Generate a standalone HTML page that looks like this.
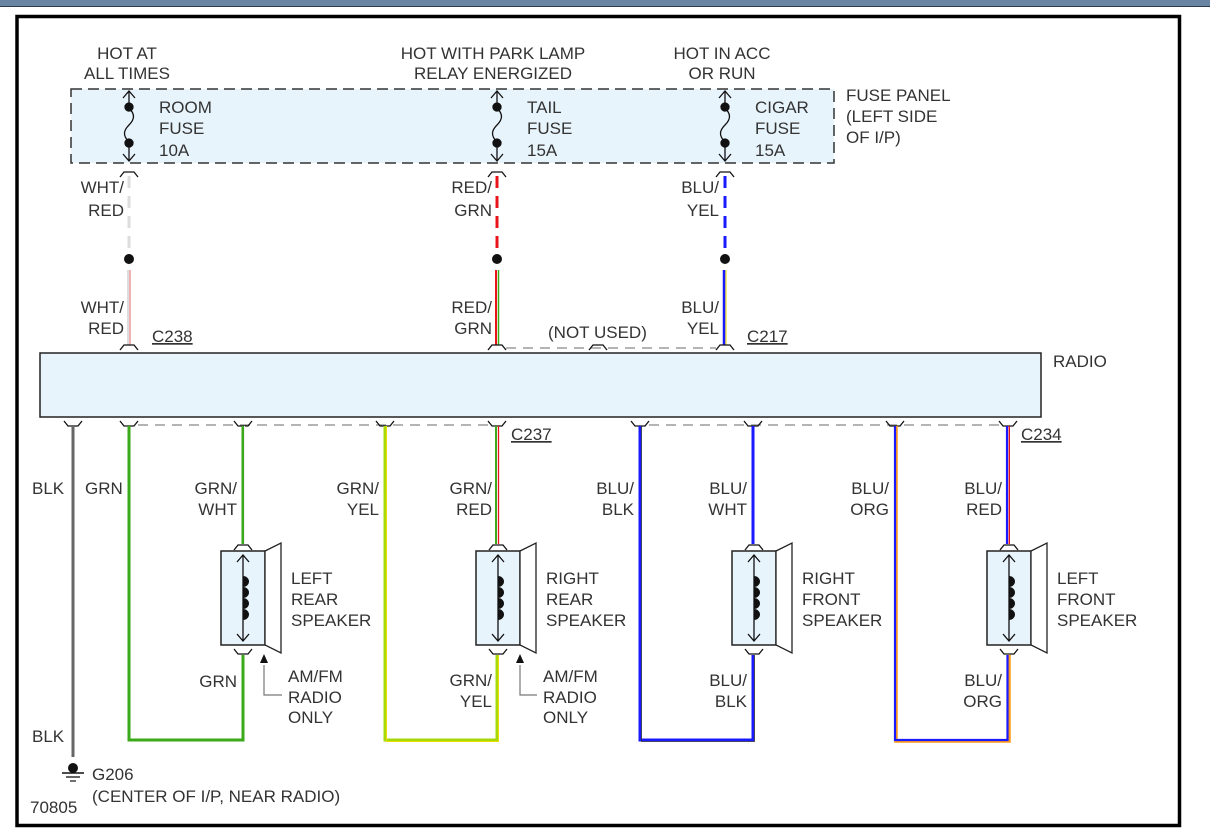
<!DOCTYPE html>
<html><head><meta charset="utf-8"><style>
html,body{margin:0;padding:0;background:#fff;}
svg{display:block;}
text{font-family:"Liberation Sans",sans-serif;font-size:17px;fill:#333;}
</style></head><body>
<svg width="1210" height="839" viewBox="0 0 1210 839" xmlns="http://www.w3.org/2000/svg">
<defs>
<g id="fuse" fill="none" stroke="#111" stroke-width="1.3">
<line x1="0" y1="91" x2="0" y2="108"/>
<line x1="0" y1="142" x2="0" y2="161"/>
<path d="M-6,98 L0,91 L6,98 M-6,154 L0,161 L6,154"/>
<path d="M0,108 C6,114 6,119 0,125 C-6,131 -6,136 0,142"/>
<circle cx="0" cy="107" r="4" fill="#111"/>
<circle cx="0" cy="143" r="4" fill="#111"/>
</g>
<path id="cdn" d="M-9,-5 L-5,0 L5,0 L9,-5" fill="none" stroke="#111" stroke-width="1.3"/>
<path id="cup" d="M-9,5 L-5,0 L5,0 L9,5" fill="none" stroke="#111" stroke-width="1.3"/>
<g id="spk">
<use href="#cup" x="0" y="545"/>
<use href="#cdn" x="0" y="654"/>
<rect x="-22" y="551" width="44" height="94" fill="#e8f4fc" stroke="#222" stroke-width="1.5"/>
<polygon points="22,551 38,543 38,653 22,645" fill="#fff" stroke="#222" stroke-width="1.3"/>
<line x1="0" y1="555" x2="0" y2="641" stroke="#111" stroke-width="1.3"/>
<path d="M-6,562 L0,555 L6,562 M-6,634 L0,641 L6,634" fill="none" stroke="#111" stroke-width="1.3"/>
<path d="M0,576 a6,5.5 0 0 1 0,11 a6,5.5 0 0 1 0,11 a6,5.5 0 0 1 0,11 a6,5.5 0 0 1 0,11 Z" fill="#111"/>
</g>
</defs>
<rect x="0" y="0" width="1210" height="6" fill="#6a84a3"/>
<line x1="0" y1="6.5" x2="1210" y2="6.5" stroke="#2b3a4d" stroke-width="1"/>
<rect x="17" y="16.5" width="1162.5" height="809" fill="#fff" stroke="#000" stroke-width="3.5"/>

<rect x="71" y="89" width="763" height="74" fill="#e8f4fc" stroke="#333" stroke-width="1.5" stroke-dasharray="11,6"/>
<use href="#fuse" x="129"/><use href="#fuse" x="497"/><use href="#fuse" x="725"/>
<text x="127" y="59" text-anchor="middle">HOT AT</text>
<text x="127" y="79" text-anchor="middle">ALL TIMES</text>
<text x="493" y="59" text-anchor="middle">HOT WITH PARK LAMP</text>
<text x="493" y="79" text-anchor="middle">RELAY ENERGIZED</text>
<text x="722" y="59" text-anchor="middle">HOT IN ACC</text>
<text x="722" y="79" text-anchor="middle">OR RUN</text>
<text x="159" y="113">ROOM</text><text x="159" y="134">FUSE</text><text x="159" y="156">10A</text>
<text x="527" y="113">TAIL</text><text x="527" y="134">FUSE</text><text x="527" y="156">15A</text>
<text x="755" y="113">CIGAR</text><text x="755" y="134">FUSE</text><text x="755" y="156">15A</text>
<text x="846" y="101">FUSE PANEL</text><text x="846" y="122">(LEFT SIDE</text><text x="846" y="143">OF I/P)</text>

<use href="#cup" x="129" y="172"/><use href="#cup" x="497" y="172"/><use href="#cup" x="725" y="172"/>
<line x1="129" y1="176" x2="129" y2="250" stroke="#ddd" stroke-width="3" stroke-dasharray="12,8"/>
<line x1="497" y1="176" x2="497" y2="250" stroke="#e8141a" stroke-width="3" stroke-dasharray="12,8"/>
<line x1="725" y1="176" x2="725" y2="250" stroke="#1a1aff" stroke-width="3" stroke-dasharray="12,8"/>
<circle cx="129" cy="259" r="5" fill="#111"/><circle cx="497" cy="259" r="5" fill="#111"/><circle cx="725" cy="259" r="5" fill="#111"/>
<line x1="128" y1="270" x2="128" y2="345" stroke="#ddd" stroke-width="2"/>
<line x1="130" y1="270" x2="130" y2="345" stroke="#d66" stroke-width="1"/>
<line x1="496" y1="270" x2="496" y2="345" stroke="#e8141a" stroke-width="2"/>
<line x1="498.5" y1="270" x2="498.5" y2="345" stroke="#3aaa1a" stroke-width="1.5"/>
<line x1="724" y1="270" x2="724" y2="345" stroke="#1a1aff" stroke-width="2.5"/>
<line x1="726" y1="270" x2="726" y2="345" stroke="#e8d800" stroke-width="1"/>
<text x="124" y="193" text-anchor="end">WHT/</text><text x="124" y="216" text-anchor="end">RED</text>
<text x="492" y="193" text-anchor="end">RED/</text><text x="492" y="216" text-anchor="end">GRN</text>
<text x="719" y="193" text-anchor="end">BLU/</text><text x="719" y="216" text-anchor="end">YEL</text>
<text x="124" y="313" text-anchor="end">WHT/</text><text x="124" y="334" text-anchor="end">RED</text>
<text x="492" y="313" text-anchor="end">RED/</text><text x="492" y="334" text-anchor="end">GRN</text>
<text x="719" y="313" text-anchor="end">BLU/</text><text x="719" y="334" text-anchor="end">YEL</text>
<text x="548" y="338">(NOT USED)</text>
<text x="152" y="342" text-decoration="underline">C238</text>
<text x="747" y="342" text-decoration="underline">C217</text>
<line x1="506" y1="348" x2="716" y2="348" stroke="#888" stroke-width="1.2" stroke-dasharray="10,7"/>
<use href="#cup" x="129" y="345"/><use href="#cup" x="497" y="345"/><use href="#cup" x="598" y="345"/><use href="#cup" x="725" y="345"/>

<rect x="40" y="353" width="1001" height="64" fill="#e8f4fc" stroke="#222" stroke-width="1.5"/>
<text x="1053" y="367">RADIO</text>

<line x1="138" y1="425" x2="488" y2="425" stroke="#888" stroke-width="1.2" stroke-dasharray="10,7"/>
<line x1="649" y1="425" x2="999" y2="425" stroke="#888" stroke-width="1.2" stroke-dasharray="10,7"/>
<use href="#cdn" x="73" y="426"/><use href="#cdn" x="129" y="426"/><use href="#cdn" x="243" y="426"/>
<use href="#cdn" x="385" y="426"/><use href="#cdn" x="497" y="426"/><use href="#cdn" x="640" y="426"/>
<use href="#cdn" x="753" y="426"/><use href="#cdn" x="895" y="426"/><use href="#cdn" x="1008" y="426"/>
<text x="511" y="440" text-decoration="underline">C237</text>
<text x="1021" y="440" text-decoration="underline">C234</text>

<line x1="73" y1="426" x2="73" y2="757" stroke="#666" stroke-width="3"/>
<circle cx="73" cy="768" r="5" fill="#111"/>
<line x1="62" y1="773" x2="84" y2="773" stroke="#111" stroke-width="1.5"/>
<line x1="66" y1="777" x2="80" y2="777" stroke="#111" stroke-width="1.3"/>
<line x1="70" y1="781" x2="76" y2="781" stroke="#111" stroke-width="1.2"/>
<text x="32" y="494">BLK</text><text x="32" y="742">BLK</text>
<text x="92" y="780">G206</text>
<text x="92" y="802">(CENTER OF I/P, NEAR RADIO)</text>
<text x="30" y="813">70805</text>

<path d="M129,426 V740 H243 V655" fill="none" stroke="#3aaa1a" stroke-width="3"/>
<line x1="243" y1="426" x2="243" y2="544" stroke="#3aaa1a" stroke-width="3"/>
<line x1="244.5" y1="426" x2="244.5" y2="544" stroke="#eee" stroke-width="1"/>
<text x="85" y="494">GRN</text>
<text x="237" y="494" text-anchor="end">GRN/</text><text x="237" y="515" text-anchor="end">WHT</text>
<text x="237" y="687" text-anchor="end">GRN</text>

<path d="M385,426 V740 H497 V655" fill="none" stroke="#a6d80a" stroke-width="3"/>
<path d="M386.5,426 V741.5 H498.5 V655" fill="none" stroke="#e8e000" stroke-width="1"/>
<line x1="496" y1="426" x2="496" y2="544" stroke="#3aaa1a" stroke-width="2"/>
<line x1="498.5" y1="426" x2="498.5" y2="544" stroke="#e8141a" stroke-width="1.3"/>
<text x="379" y="494" text-anchor="end">GRN/</text><text x="379" y="515" text-anchor="end">YEL</text>
<text x="492" y="494" text-anchor="end">GRN/</text><text x="492" y="515" text-anchor="end">RED</text>
<text x="492" y="686" text-anchor="end">GRN/</text><text x="492" y="707" text-anchor="end">YEL</text>

<path d="M640,426 V740 H753 V655" fill="none" stroke="#1a1aff" stroke-width="3"/>
<path d="M641.5,426 V741.5 H754.5 V655" fill="none" stroke="#333" stroke-width="0.8"/>
<line x1="753" y1="426" x2="753" y2="544" stroke="#1a1aff" stroke-width="3"/>
<text x="634" y="494" text-anchor="end">BLU/</text><text x="634" y="515" text-anchor="end">BLK</text>
<text x="747" y="494" text-anchor="end">BLU/</text><text x="747" y="515" text-anchor="end">WHT</text>
<text x="747" y="686" text-anchor="end">BLU/</text><text x="747" y="707" text-anchor="end">BLK</text>

<path d="M896,426 V741 H1009 V655" fill="none" stroke="#ff9a1a" stroke-width="3.5"/>
<path d="M895,426 V740 H1007.5 V655" fill="none" stroke="#1a1aff" stroke-width="2.2"/>
<line x1="1007" y1="426" x2="1007" y2="544" stroke="#1a1aff" stroke-width="2.2"/>
<line x1="1009.3" y1="426" x2="1009.3" y2="544" stroke="#e8141a" stroke-width="1.4"/>
<text x="889" y="494" text-anchor="end">BLU/</text><text x="889" y="515" text-anchor="end">ORG</text>
<text x="1002" y="494" text-anchor="end">BLU/</text><text x="1002" y="515" text-anchor="end">RED</text>
<text x="1002" y="686" text-anchor="end">BLU/</text><text x="1002" y="707" text-anchor="end">ORG</text>

<use href="#spk" x="243"/><use href="#spk" x="498"/><use href="#spk" x="754"/><use href="#spk" x="1009"/>
<text x="291" y="584">LEFT</text><text x="291" y="605">REAR</text><text x="291" y="626">SPEAKER</text>
<text x="546" y="584">RIGHT</text><text x="546" y="605">REAR</text><text x="546" y="626">SPEAKER</text>
<text x="802" y="584">RIGHT</text><text x="802" y="605">FRONT</text><text x="802" y="626">SPEAKER</text>
<text x="1057" y="584">LEFT</text><text x="1057" y="605">FRONT</text><text x="1057" y="626">SPEAKER</text>

<path d="M264,665 V695 H282" fill="none" stroke="#777" stroke-width="1.2"/>
<polygon points="264,654 260,663 268,663" fill="#111"/>
<text x="288" y="682">AM/FM</text><text x="288" y="703">RADIO</text><text x="288" y="723">ONLY</text>
<path d="M520,665 V695 H537" fill="none" stroke="#777" stroke-width="1.2"/>
<polygon points="520,654 516,663 524,663" fill="#111"/>
<text x="543" y="682">AM/FM</text><text x="543" y="703">RADIO</text><text x="543" y="723">ONLY</text>
</svg>
</body></html>
